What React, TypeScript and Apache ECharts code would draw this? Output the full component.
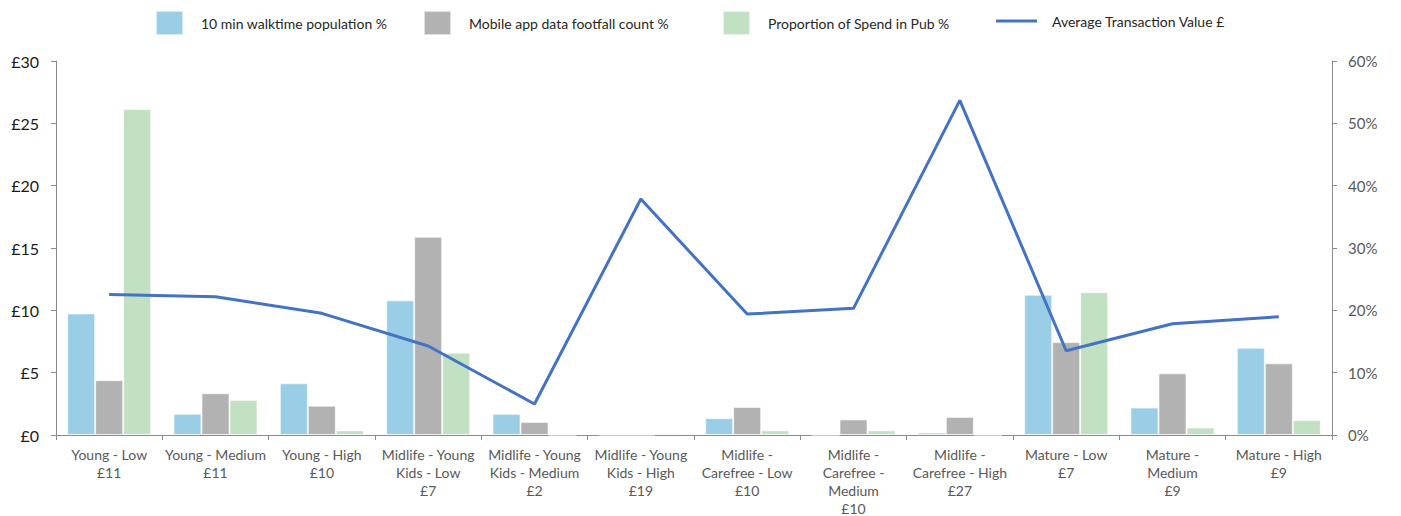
import React, { useEffect, useRef } from "react";
import * as echarts from "echarts";

const categories = [
  "Young - Low\n£11",
  "Young - Medium\n£11",
  "Young - High\n£10",
  "Midlife - Young\nKids - Low\n£7",
  "Midlife - Young\nKids - Medium\n£2",
  "Midlife - Young\nKids - High\n£19",
  "Midlife -\nCarefree - Low\n£10",
  "Midlife -\nCarefree -\nMedium\n£10",
  "Midlife -\nCarefree - High\n£27",
  "Mature - Low\n£7",
  "Mature -\nMedium\n£9",
  "Mature - High\n£9",
];

const walktimePct = [19.5, 3.4, 8.3, 21.6, 3.4, 0, 2.7, 0, 0.4, 22.5, 4.4, 14.0];
const footfallPct = [8.8, 6.7, 4.7, 31.8, 2.1, 0, 4.5, 2.5, 2.9, 14.9, 9.9, 11.5];
const spendPct = [52.3, 5.6, 0.75, 13.2, 0, 0.2, 0.75, 0.75, 0, 22.9, 1.2, 2.4];
const atv = [11.28, 11.09, 9.76, 7.14, 2.49, 18.93, 9.7, 10.16, 26.84, 6.76, 8.93, 9.49];

const names = [
  "10 min walktime population %",
  "Mobile app data footfall count %",
  "Proportion of Spend in Pub %",
  "Average Transaction Value £",
];
const colors = ["#9ACEE6", "#B2B2B2", "#C2E1C2", "#4472C4"];
const legendLeft = [155, 423, 722, 996];

const FONT = "Lato";

export default function App() {
  const ref = useRef<HTMLDivElement>(null);
  useEffect(() => {
    document.body.style.margin = "0";
    document.body.style.overflow = "hidden";
    const chart = echarts.init(ref.current!, null, { renderer: "svg" });
    const legends = names.map((n, i) => ({
      data: [n],
      left: legendLeft[i],
      top: i === 3 ? 14 : 10,
      padding: 0,
      itemWidth: i === 3 ? 41 : 27,
      itemHeight: i === 3 ? 3 : 24,
      icon: "rect",
      selectedMode: false,
      textStyle: {
        fontFamily: FONT,
        fontSize: 14,
        color: "#262626",
        padding: [0, 0, 0, i === 3 ? 10 : 13],
      },
    }));
    const barStyle = (c: string) => ({ color: c, borderColor: "rgba(255,255,255,0.6)", borderWidth: 1 });
    chart.setOption({
      animation: false,
      textStyle: { fontFamily: FONT },
      legend: legends,
      grid: { left: 56, right: 69, top: 61, bottom: 81, containLabel: false, outerBoundsMode: "none" },
      xAxis: {
        type: "category",
        data: categories,
        axisLine: { lineStyle: { color: "#8c8c8c", width: 1 } },
        axisTick: { show: true, length: 5, lineStyle: { color: "#8c8c8c" } },
        axisLabel: {
          interval: 0,
          fontFamily: FONT,
          fontSize: 14,
          color: "#595959",
          lineHeight: 18,
          margin: 10,
        },
      },
      yAxis: [
        {
          type: "value",
          min: 0,
          max: 30,
          interval: 5,
          position: "left",
          axisLine: { show: true, lineStyle: { color: "#8c8c8c" } },
          axisTick: { show: true, length: 5, lineStyle: { color: "#8c8c8c" } },
          splitLine: { show: false },
          axisLabel: {
            formatter: "£{value}",
            fontFamily: FONT,
            fontSize: 16,
            color: "#1a1a1a",
            margin: 17,
          },
        },
        {
          type: "value",
          min: 0,
          max: 60,
          interval: 10,
          position: "right",
          axisLine: { show: true, lineStyle: { color: "#8c8c8c" } },
          axisTick: { show: true, length: 5, lineStyle: { color: "#8c8c8c" } },
          splitLine: { show: false },
          axisLabel: {
            formatter: "{value}%",
            fontFamily: FONT,
            fontSize: 15,
            color: "#595959",
            margin: 16,
          },
        },
      ],
      series: [
        {
          name: names[0],
          type: "bar",
          yAxisIndex: 1,
          data: walktimePct,
          itemStyle: barStyle(colors[0]),
          barGap: "0%",
          barCategoryGap: "21%",
        },
        {
          name: names[1],
          type: "bar",
          yAxisIndex: 1,
          data: footfallPct,
          itemStyle: barStyle(colors[1]),
          barGap: "0%",
          barCategoryGap: "21%",
        },
        {
          name: names[2],
          type: "bar",
          yAxisIndex: 1,
          data: spendPct,
          itemStyle: barStyle(colors[2]),
          barGap: "0%",
          barCategoryGap: "21%",
        },
        {
          name: names[3],
          type: "line",
          yAxisIndex: 0,
          data: atv,
          symbol: "none",
          lineStyle: { color: colors[3], width: 3 },
          itemStyle: { color: colors[3] },
          z: 5,
        },
      ],
    });
    return () => chart.dispose();
  }, []);
  return <div ref={ref} style={{ width: 1401, height: 516 }} />;
}
